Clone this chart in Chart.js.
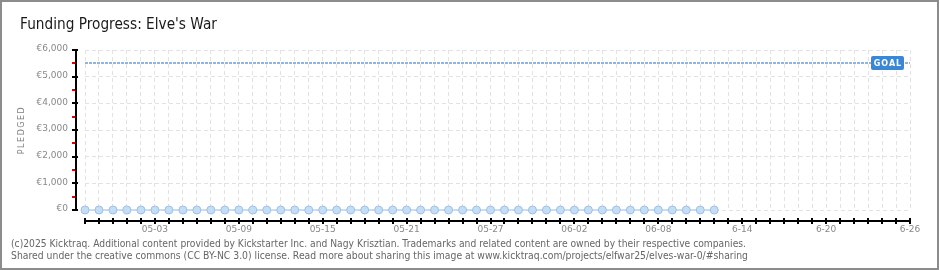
<!DOCTYPE html>
<html><head><meta charset="utf-8">
<script src="https://cdn.jsdelivr.net/npm/chart.js@4/dist/chart.umd.min.js"></script>
<style>html,body{margin:0;padding:0;background:#fff}canvas{display:block}</style>
</head><body><canvas id="c" width="940" height="270"></canvas>
<script>
const chartTitle = "Funding Progress: Elve's War";
const axisTitle = "PLEDGED";
const goalLabel = "GOAL";
const dates = [
 '04-28','04-29','04-30','05-01','05-02','05-03','05-04','05-05','05-06','05-07',
 '05-08','05-09','05-10','05-11','05-12','05-13','05-14','05-15','05-16','05-17',
 '05-18','05-19','05-20','05-21','05-22','05-23','05-24','05-25','05-26','05-27',
 '05-28','05-29','05-30','05-31','06-01','06-02','06-03','06-04','06-05','06-06',
 '06-07','06-08','06-09','06-10','06-11','06-12','06-13','06-14','06-15','06-16',
 '06-17','06-18','06-19','06-20','06-21','06-22','06-23','06-24','06-25','06-26'];
const pledged = [0,0,0,0,0,0,0,0,0,0, 0,0,0,0,0,0,0,0,0,0, 0,0,0,0,0,0,0,0,0,0,
 0,0,0,0,0,0,0,0,0,0, 0,0,0,0,0,0];
const goal = 5500;
const xTickDates  = ['05-03','05-09','05-15','05-21','05-27','06-02','06-08','06-14','06-20','06-26'];
const xTickLabels = ['05-03','05-09','05-15','05-21','05-27','06-02','06-08','6-14','6-20','6-26'];
const yMajor = [0,1000,2000,3000,4000,5000,6000];
const yMinor = [500,1500,2500,3500,4500,5500];
const footerLines = [
 "(c)2025 Kicktraq. Additional content provided by Kickstarter Inc. and Nagy Krisztian. Trademarks and related content are owned by their respective companies.",
 "Shared under the creative commons (CC BY-NC 3.0) license. Read more about sharing this image at www.kicktraq.com/projects/elfwar25/elves-war-0/#sharing"];

function fitText(ctx, text, x, y, width){
  const w = ctx.measureText(text).width;
  ctx.save(); ctx.translate(x, y); ctx.scale(width / w, 1); ctx.fillText(text, 0, 0); ctx.restore();
}

const decor = {
  id: 'decor',
  beforeDraw(chart){
    const ctx = chart.ctx; ctx.save(); ctx.fillStyle = '#fff'; ctx.fillRect(0,0,chart.width,chart.height); ctx.restore();
  },
  afterDraw(chart){
    const {ctx, chartArea: a, scales: {x, y}} = chart;
    ctx.save();
    // y axis
    const axX = a.left - 9;
    ctx.lineWidth = 2; ctx.strokeStyle = '#000';
    ctx.beginPath(); ctx.moveTo(axX, y.getPixelForValue(yMajor[yMajor.length-1]) - 1); ctx.lineTo(axX, y.getPixelForValue(0) + 1); ctx.stroke();
    yMajor.forEach(v => { const p = Math.round(y.getPixelForValue(v)); ctx.beginPath(); ctx.moveTo(axX - 4, p); ctx.lineTo(axX + 2, p); ctx.stroke(); });
    ctx.strokeStyle = '#e00000';
    yMinor.forEach(v => { const p = Math.round(y.getPixelForValue(v)); ctx.beginPath(); ctx.moveTo(axX - 4, p); ctx.lineTo(axX - 1, p); ctx.stroke(); });
    // x axis
    const axY = a.bottom + 11;
    ctx.strokeStyle = '#000';
    ctx.beginPath(); ctx.moveTo(x.getPixelForValue(0), axY); ctx.lineTo(x.getPixelForValue(dates.length-1), axY); ctx.stroke();
    dates.forEach((d, i) => { const p = Math.round(x.getPixelForValue(i)); ctx.beginPath(); ctx.moveTo(p, axY - 3); ctx.lineTo(p, axY + 3); ctx.stroke(); });
    // goal line
    const gy = Math.round(y.getPixelForValue(goal));
    ctx.strokeStyle = '#86b8ea'; ctx.lineWidth = 2; ctx.setLineDash([3,1]);
    ctx.beginPath(); ctx.moveTo(a.left, gy); ctx.lineTo(a.right, gy); ctx.stroke();
    ctx.setLineDash([]);
    // goal label
    const gx1 = a.right - 39, gw = 33;
    ctx.fillStyle = '#3a87d6';
    ctx.beginPath(); ctx.roundRect(gx1, gy - 7, gw, 14, 2); ctx.fill();
    ctx.fillStyle = '#fff'; ctx.font = 'bold 8px "DejaVu Sans"'; ctx.textAlign = 'center'; ctx.textBaseline = 'middle';
    ctx.letterSpacing = '1px';
    ctx.fillText(goalLabel, gx1 + gw/2 + 0.5, gy + 0.5);
    // PLEDGED
    ctx.save();
    ctx.translate(22, 130); ctx.rotate(-Math.PI/2);
    ctx.fillStyle = '#808080'; ctx.font = '8px "DejaVu Sans"'; ctx.letterSpacing = '1.5px';
    ctx.fillText(axisTitle, 0, 0);
    ctx.restore();
    ctx.letterSpacing = '0px';
    // title
    ctx.textAlign = 'left'; ctx.textBaseline = 'alphabetic';
    ctx.fillStyle = '#1a1a1a'; ctx.font = '15px "DejaVu Sans"';
    fitText(ctx, chartTitle, 20, 29, 197);
    // footer
    ctx.fillStyle = '#666'; ctx.font = '10px "DejaVu Sans"';
    fitText(ctx, footerLines[0], 11, 247, 735);
    fitText(ctx, footerLines[1], 11, 259, 737);
    // border
    ctx.strokeStyle = '#8c8c8c'; ctx.lineWidth = 2;
    ctx.strokeRect(1, 1, chart.width - 3, chart.height - 2);
    ctx.restore();
  }
};

new Chart(document.getElementById('c'), {
  type: 'line',
  data: {
    labels: dates,
    datasets: [{
      data: pledged,
      borderColor: '#b7d3f1', borderWidth: 1.5,
      pointRadius: 4, pointBackgroundColor: '#c6ddf6', pointBorderColor: '#9ec1e8', pointBorderWidth: 1,
      clip: false, tension: 0
    }]
  },
  options: {
    responsive: false, animation: false, devicePixelRatio: 1,
    layout: {padding: {left: 0, top: 50, right: 30, bottom: 0}},
    plugins: {legend: {display: false}, tooltip: {enabled: false}, title: {display: false}},
    scales: {
      x: {
        offset: false,
        afterFit(s){ s.height = 60; },
        grid: {color: '#e2e2e2', lineWidth: 1, drawTicks: false},
        border: {display: false, dash: [4,3]},
        ticks: {
          autoSkip: false, maxRotation: 0, padding: 14,
          color: '#888', font: {family: 'DejaVu Sans', size: 9},
          callback: (v, i) => { const k = xTickDates.indexOf(dates[i]); return k >= 0 ? xTickLabels[k] : ''; }
        }
      },
      y: {
        min: 0, max: 6000,
        afterFit(s){ s.width = 85; },
        grid: {color: '#e2e2e2', lineWidth: 1, drawTicks: false},
        border: {display: false, dash: [4,3]},
        ticks: {
          stepSize: 1000, padding: 17, labelOffset: -1,
          color: '#888', font: {family: 'DejaVu Sans', size: 9},
          callback: v => '€' + v.toLocaleString('en-US')
        }
      }
    }
  },
  plugins: [decor]
});
</script></body></html>
